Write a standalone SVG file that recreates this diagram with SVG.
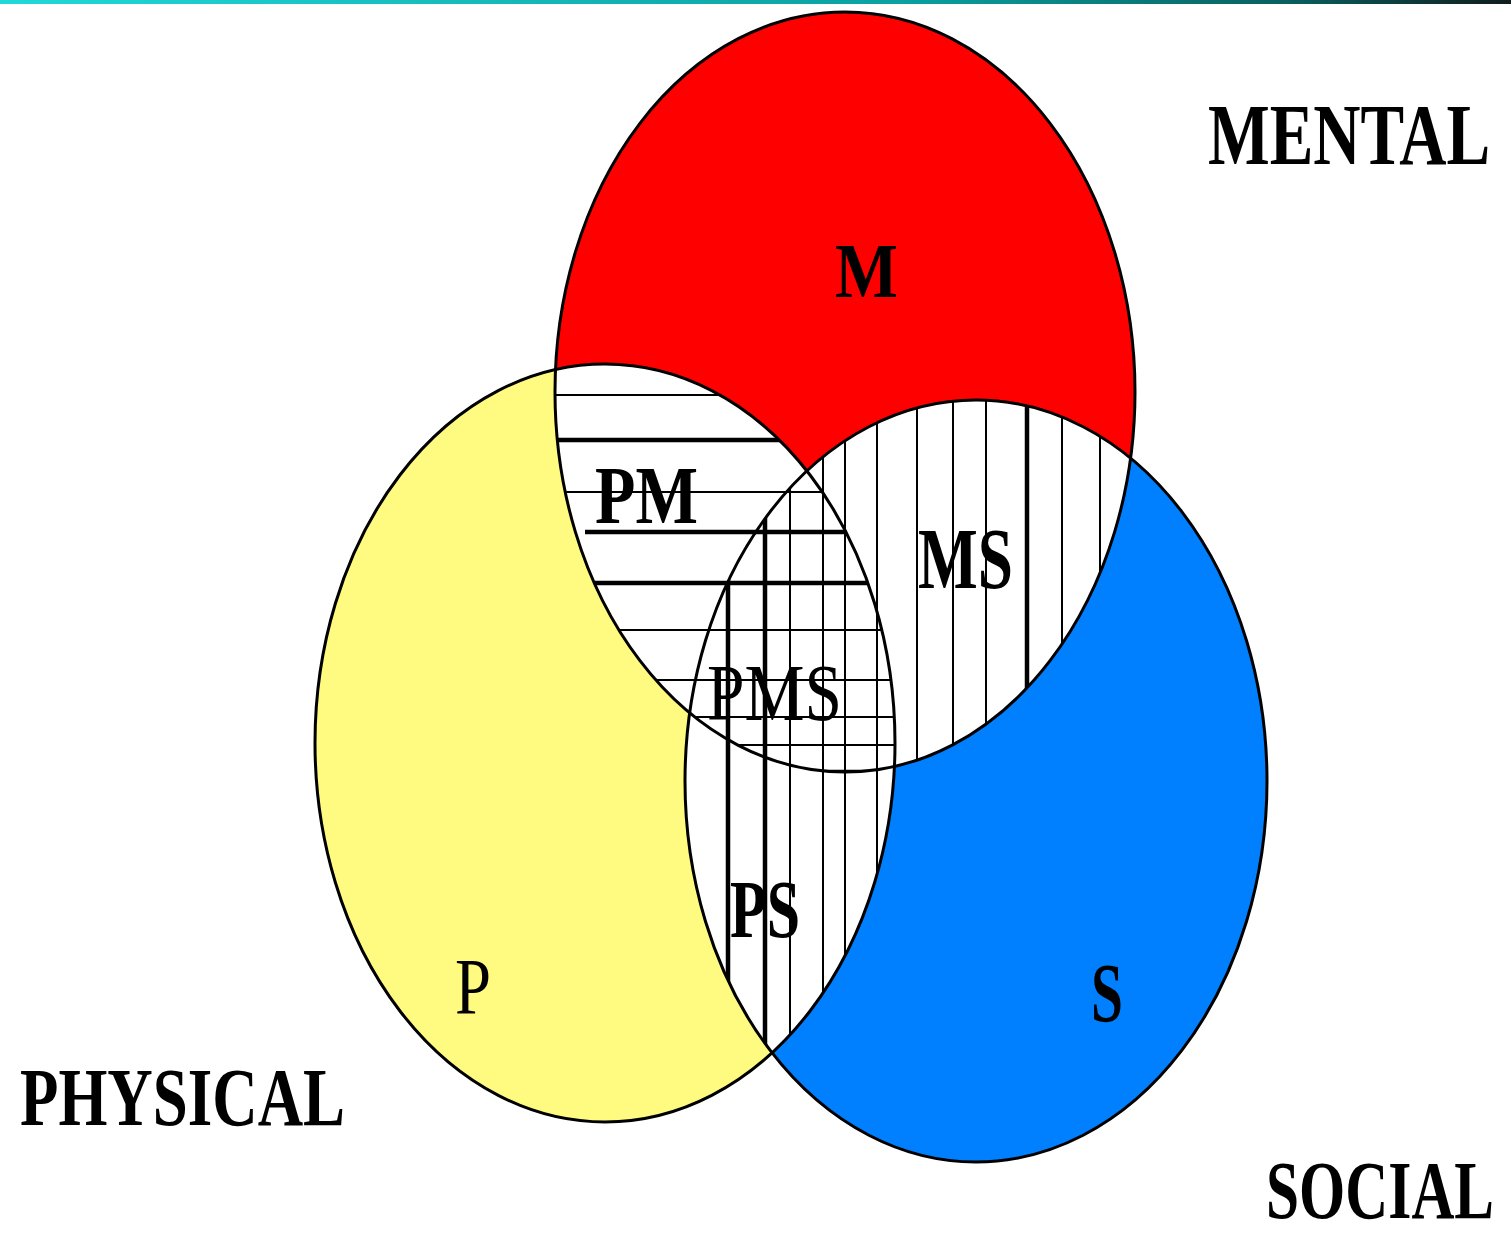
<svg xmlns="http://www.w3.org/2000/svg" width="1511" height="1238" viewBox="0 0 1511 1238">
<style>
.lbl{font-family:"Liberation Serif","Times New Roman",serif;font-weight:bold;fill:#000}
.thin{font-weight:normal}
.edge{fill:none;stroke:#000;stroke-width:3}
.h{stroke:#000;stroke-width:2}
.hk{stroke:#000;stroke-width:4.5}
</style>
<defs>
<linearGradient id="bar" x1="0" y1="0" x2="1" y2="0">
<stop offset="0" stop-color="#22d8d8"/>
<stop offset="0.6" stop-color="#0aa0a0"/>
<stop offset="0.85" stop-color="#0a6060"/>
<stop offset="1" stop-color="#101c1c"/>
</linearGradient>
<clipPath id="cP"><ellipse cx="605" cy="743" rx="290" ry="379"/></clipPath>
<clipPath id="cM"><ellipse cx="845" cy="392" rx="290" ry="380"/></clipPath>
<clipPath id="cS"><ellipse cx="976" cy="781" rx="291" ry="381"/></clipPath>
<clipPath id="cPM"><ellipse cx="605" cy="743" rx="290" ry="379"/><ellipse cx="845" cy="392" rx="290" ry="380"/></clipPath>
</defs>
<rect width="1511" height="1238" fill="#fff"/>
<rect x="0" y="0" width="1511" height="4" fill="url(#bar)"/>

<g id="circle-M"><ellipse cx="845" cy="392" rx="290" ry="380" fill="#ff0000"/></g>
<g id="circle-P"><ellipse cx="605" cy="743" rx="290" ry="379" fill="#fffb80"/></g>
<g id="circle-S"><ellipse cx="976" cy="781" rx="291" ry="381" fill="#0080ff"/></g>

<g id="region-PM" clip-path="url(#cP)">
<g clip-path="url(#cM)">
<rect x="500" y="340" width="450" height="450" fill="#fff"/>
<line class="h" x1="540" y1="395" x2="950" y2="395"/>
<line class="hk" x1="540" y1="440" x2="950" y2="440"/>
<line class="h" x1="540" y1="492" x2="950" y2="492"/>
<line class="hk" x1="585" y1="532" x2="950" y2="532"/>
<line class="hk" x1="595" y1="583" x2="950" y2="583"/>
<line class="h" x1="540" y1="630" x2="950" y2="630"/>
<line class="h" x1="540" y1="680" x2="950" y2="680"/>
<line class="h" x1="540" y1="717" x2="950" y2="717"/>
<line class="h" x1="540" y1="745" x2="950" y2="745"/>
<line class="hk" x1="812" y1="772" x2="875" y2="772"/>
</g>
</g>

<g id="region-MS-PS" clip-path="url(#cS)">
<g clip-path="url(#cPM)">
<rect x="680" y="395" width="470" height="700" fill="#fff"/>
</g>
</g>
<g id="region-PMS" clip-path="url(#cP)">
<g clip-path="url(#cM)">
<g clip-path="url(#cS)">
<rect x="680" y="395" width="260" height="400" fill="#fff"/>
<line class="h" x1="680" y1="492" x2="950" y2="492"/>
<line class="hk" x1="680" y1="532" x2="950" y2="532"/>
<line class="hk" x1="680" y1="583" x2="950" y2="583"/>
<line class="h" x1="680" y1="630" x2="950" y2="630"/>
<line class="h" x1="680" y1="680" x2="950" y2="680"/>
<line class="h" x1="680" y1="717" x2="950" y2="717"/>
<line class="h" x1="680" y1="745" x2="950" y2="745"/>
<line class="hk" x1="812" y1="772" x2="875" y2="772"/>
</g>
</g>
</g>
<g id="vertical-hatch" clip-path="url(#cS)">
<g clip-path="url(#cPM)">
<line class="hk" x1="728" y1="380" x2="728" y2="1080"/>
<line class="hk" x1="765" y1="380" x2="765" y2="1080"/>
<line class="h" x1="790" y1="380" x2="790" y2="1080"/>
<line class="h" x1="823" y1="380" x2="823" y2="1080"/>
<line class="h" x1="845" y1="380" x2="845" y2="1080"/>
<line class="h" x1="877" y1="380" x2="877" y2="1080"/>
<line class="h" x1="917" y1="380" x2="917" y2="1080"/>
<line class="h" x1="953" y1="380" x2="953" y2="1080"/>
<line class="h" x1="986" y1="380" x2="986" y2="1080"/>
<line class="hk" x1="1027" y1="380" x2="1027" y2="1080"/>
<line class="h" x1="1062" y1="380" x2="1062" y2="1080"/>
<line class="h" x1="1100" y1="380" x2="1100" y2="1080"/>
</g>
</g>

<g id="outlines">
<ellipse class="edge" cx="845" cy="392" rx="290" ry="380"/>
<ellipse class="edge" cx="605" cy="743" rx="290" ry="379"/>
<ellipse class="edge" cx="976" cy="781" rx="291" ry="381"/>
</g>

<g id="labels">
<text id="lbl-M" class="lbl" x="835" y="297" font-size="78" textLength="63" lengthAdjust="spacingAndGlyphs">M</text>
<text id="lbl-PM" class="lbl" x="595" y="523" font-size="83" textLength="103" lengthAdjust="spacingAndGlyphs">PM</text>
<text id="lbl-MS" class="lbl" x="918" y="588" font-size="87" textLength="95" lengthAdjust="spacingAndGlyphs">MS</text>
<text id="lbl-PMS" class="lbl thin" x="707" y="720" font-size="80" textLength="135" lengthAdjust="spacingAndGlyphs">PMS</text>
<text id="lbl-PS" class="lbl" x="730" y="937" font-size="83" textLength="70" lengthAdjust="spacingAndGlyphs">PS</text>
<text id="lbl-P" class="lbl thin" x="455" y="1014" font-size="80" textLength="36" lengthAdjust="spacingAndGlyphs">P</text>
<text id="lbl-S" class="lbl" x="1091" y="1022" font-size="85" textLength="32" lengthAdjust="spacingAndGlyphs">S</text>
<text id="lbl-MENTAL" class="lbl" transform="translate(1208,164) scale(1,1.34)" x="0" y="0" font-size="64" textLength="282" lengthAdjust="spacingAndGlyphs">MENTAL</text>
<text id="lbl-PHYSICAL" class="lbl" x="20" y="1125" font-size="83" textLength="325" lengthAdjust="spacingAndGlyphs">PHYSICAL</text>
<text id="lbl-SOCIAL" class="lbl" transform="translate(1266,1218) scale(1,1.4)" x="0" y="0" font-size="59" textLength="228" lengthAdjust="spacingAndGlyphs">SOCIAL</text>
</g>
</svg>
